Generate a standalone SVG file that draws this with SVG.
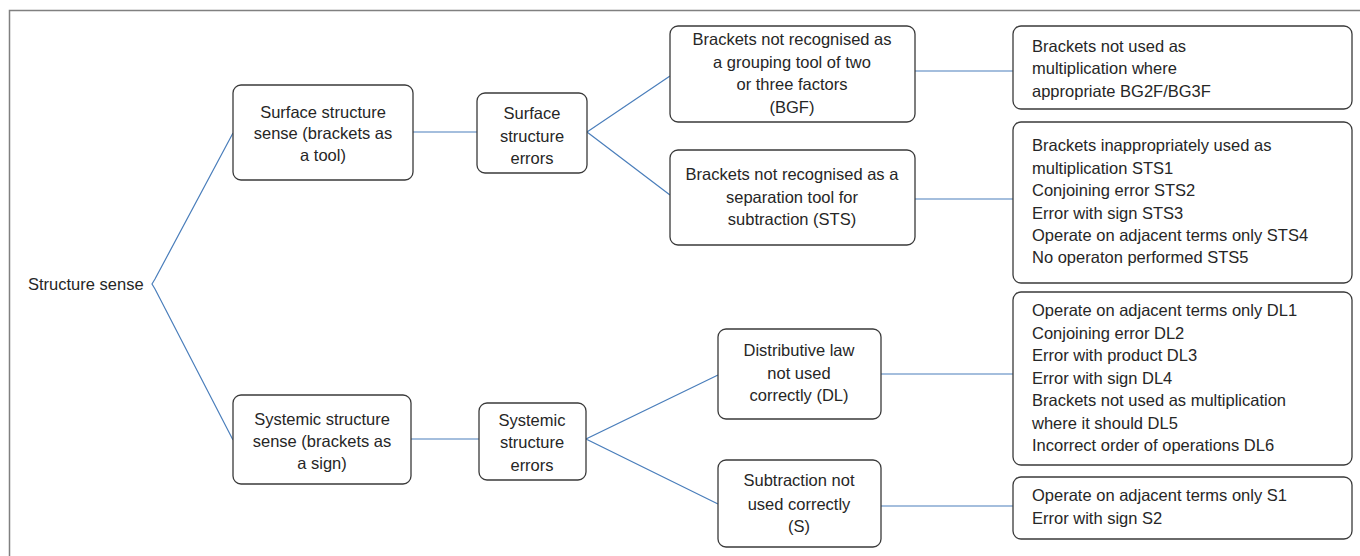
<svg xmlns="http://www.w3.org/2000/svg" width="1360" height="556" viewBox="0 0 1360 556">
<style>
.box{fill:#fff;stroke:#3a3a3a;stroke-width:1.3}
.t{font-family:"Liberation Sans",Arial,sans-serif;font-size:16.5px;fill:#262626;dominant-baseline:central}
.c{text-anchor:middle}
.ln{fill:none;stroke:#4a7ebb;stroke-width:1.2}
</style>
<rect x="0" y="0" width="1360" height="556" fill="#fff"/>
<path d="M9.5,556 V10.5 H1360" fill="none" stroke="#808080" stroke-width="1.5"/>
<g id="connectors">
<path class="ln" d="M233,133 L155,279 L152,284 L155,289 L233,440"/>
<line class="ln" x1="413" y1="132" x2="477" y2="132"/>
<line class="ln" x1="411" y1="439" x2="479" y2="439"/>
<path class="ln" d="M670,76 L587,132 L670,195"/>
<path class="ln" d="M718,375 L586,439 L718,504"/>
<line class="ln" x1="915" y1="71" x2="1013" y2="71"/>
<line class="ln" x1="915" y1="199" x2="1013" y2="199"/>
<line class="ln" x1="881" y1="374" x2="1013" y2="374"/>
<line class="ln" x1="881" y1="506" x2="1013" y2="506"/>
</g>
<g id="root">
<text class="t" x="28" y="284">Structure sense</text>
</g>
<g id="surface-sense">
<rect class="box" x="233" y="85" width="180" height="95" rx="8"/>
<text class="t c" x="323" y="112">Surface structure</text>
<text class="t c" x="323" y="133">sense (brackets as</text>
<text class="t c" x="323" y="155">a tool)</text>
</g>
<g id="systemic-sense">
<rect class="box" x="233" y="395" width="178" height="89" rx="8"/>
<text class="t c" x="322" y="419">Systemic structure</text>
<text class="t c" x="322" y="441">sense (brackets as</text>
<text class="t c" x="322" y="463">a sign)</text>
</g>
<g id="surface-errors">
<rect class="box" x="477" y="93" width="110" height="80" rx="8"/>
<text class="t c" x="532" y="113">Surface</text>
<text class="t c" x="532" y="136">structure</text>
<text class="t c" x="532" y="158">errors</text>
</g>
<g id="systemic-errors">
<rect class="box" x="479" y="403" width="107" height="77" rx="8"/>
<text class="t c" x="532" y="420">Systemic</text>
<text class="t c" x="532" y="442">structure</text>
<text class="t c" x="532" y="465">errors</text>
</g>
<g id="bgf">
<rect class="box" x="670" y="26" width="245" height="96" rx="8"/>
<text class="t c" x="792" y="39">Brackets not recognised as</text>
<text class="t c" x="792" y="62">a grouping tool of two</text>
<text class="t c" x="792" y="84">or three factors</text>
<text class="t c" x="792" y="107">(BGF)</text>
</g>
<g id="sts">
<rect class="box" x="670" y="150" width="245" height="95" rx="8"/>
<text class="t c" x="792" y="174">Brackets not recognised as a</text>
<text class="t c" x="792" y="197">separation tool for</text>
<text class="t c" x="792" y="219">subtraction (STS)</text>
</g>
<g id="dl">
<rect class="box" x="718" y="329" width="163" height="90" rx="8"/>
<text class="t c" x="799" y="350">Distributive law</text>
<text class="t c" x="799" y="373">not used</text>
<text class="t c" x="799" y="395">correctly (DL)</text>
</g>
<g id="s">
<rect class="box" x="718" y="460" width="163" height="87" rx="8"/>
<text class="t c" x="799" y="480">Subtraction not</text>
<text class="t c" x="799" y="504">used correctly</text>
<text class="t c" x="799" y="526">(S)</text>
</g>
<g id="bgf-detail">
<rect class="box" x="1013" y="26" width="339" height="83" rx="8"/>
<text class="t" x="1032" y="46">Brackets not used as</text>
<text class="t" x="1032" y="68">multiplication where</text>
<text class="t" x="1032" y="91">appropriate BG2F/BG3F</text>
</g>
<g id="sts-detail">
<rect class="box" x="1013" y="122" width="339" height="161" rx="8"/>
<text class="t" x="1032" y="145">Brackets inappropriately used as</text>
<text class="t" x="1032" y="168">multiplication STS1</text>
<text class="t" x="1032" y="190">Conjoining error STS2</text>
<text class="t" x="1032" y="213">Error with sign STS3</text>
<text class="t" x="1032" y="235">Operate on adjacent terms only STS4</text>
<text class="t" x="1032" y="257">No operaton performed STS5</text>
</g>
<g id="dl-detail">
<rect class="box" x="1013" y="292" width="339" height="173" rx="8"/>
<text class="t" x="1032" y="310">Operate on adjacent terms only DL1</text>
<text class="t" x="1032" y="333">Conjoining error DL2</text>
<text class="t" x="1032" y="355">Error with product DL3</text>
<text class="t" x="1032" y="378">Error with sign DL4</text>
<text class="t" x="1032" y="400">Brackets not used as multiplication</text>
<text class="t" x="1032" y="423">where it should DL5</text>
<text class="t" x="1032" y="445">Incorrect order of operations DL6</text>
</g>
<g id="s-detail">
<rect class="box" x="1013" y="477" width="339" height="62" rx="8"/>
<text class="t" x="1032" y="495">Operate on adjacent terms only S1</text>
<text class="t" x="1032" y="518">Error with sign S2</text>
</g>
</svg>
